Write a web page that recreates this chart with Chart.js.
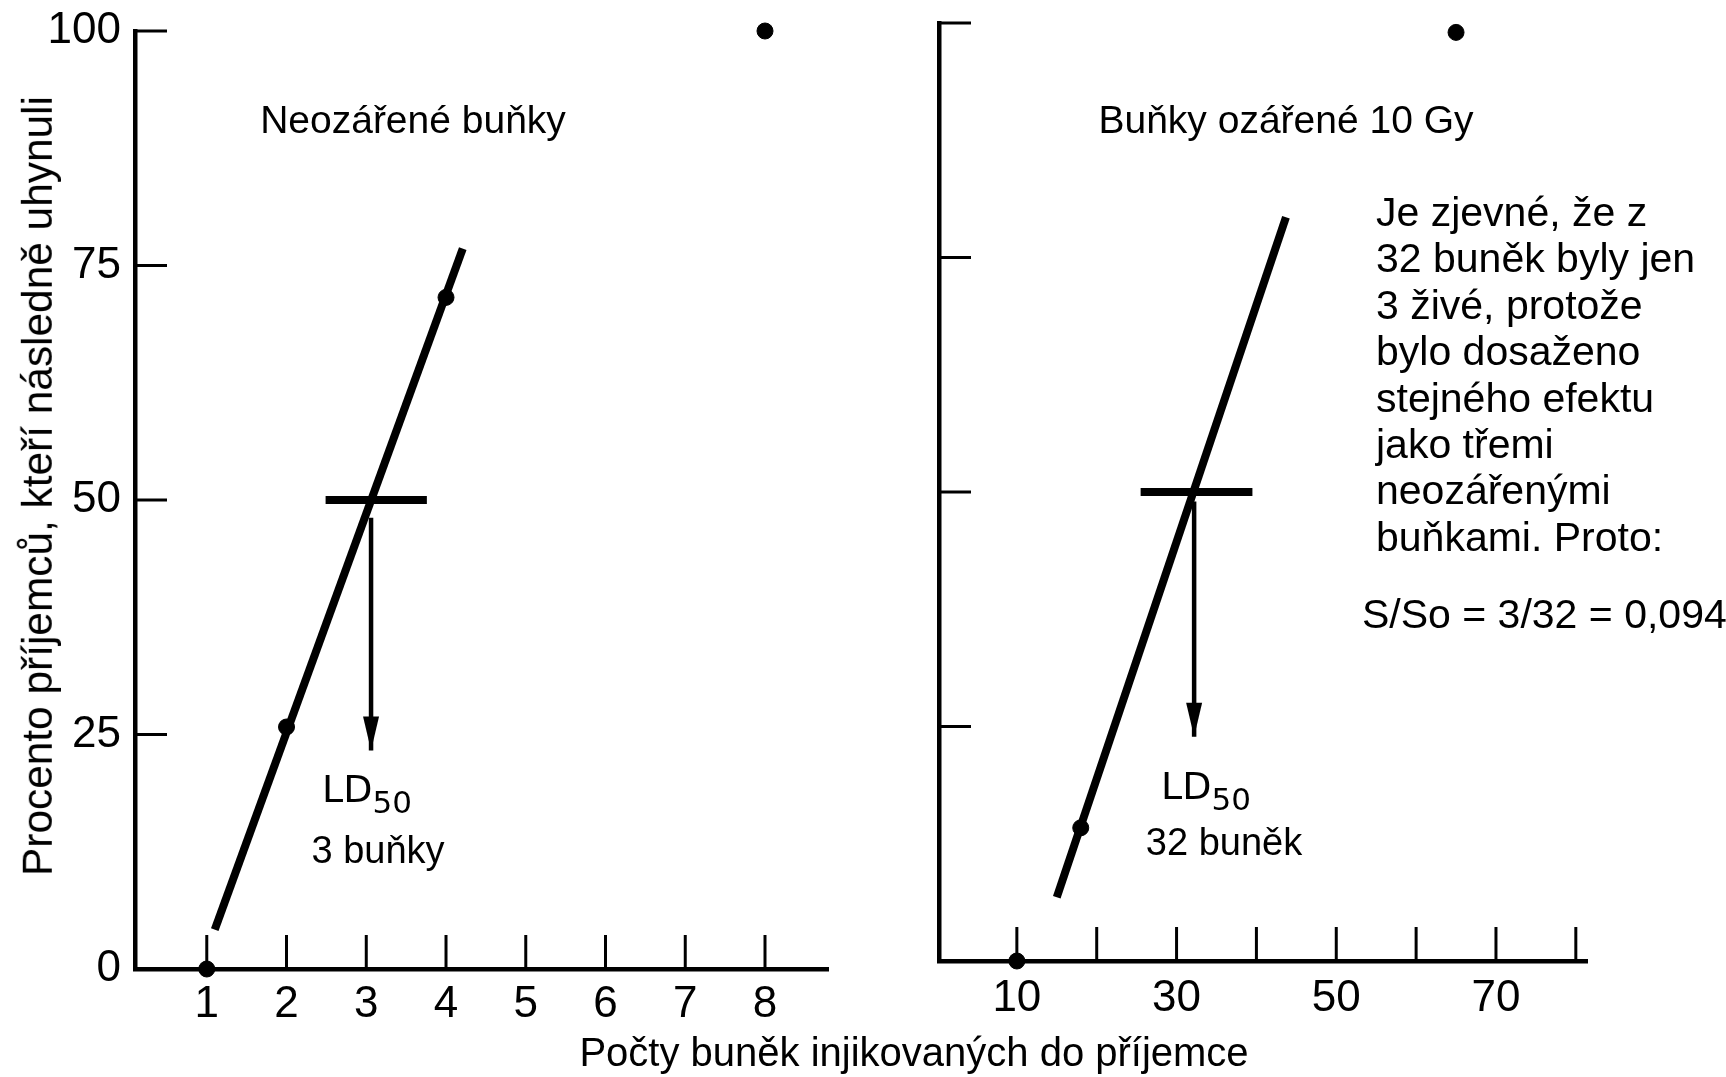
<!DOCTYPE html>
<html>
<head>
<meta charset="utf-8">
<script src="https://cdn.jsdelivr.net/npm/chart.js@4.4.1/dist/chart.umd.min.js"></script>
<style>
html, body { margin: 0; padding: 0; background: #fff; }
#page { position: relative; width: 1726px; height: 1077px; overflow: hidden;
        font-family: "Liberation Sans", Arial, sans-serif; color: #000; }
.box { position: absolute; top: 0; }
.txt { position: absolute; white-space: nowrap; line-height: 1; }
.c { transform: translate(-50%, -50%); }
.ld { font-family: "DejaVu Sans", sans-serif; font-size: 38px; }
.ld sub { font-size: 31px; vertical-align: -11px; line-height: 0; }
#note { position: absolute; left: 1376px; top: 189px; font-size: 41px; line-height: 46.4px; }
</style>
</head>
<body>
<div id="page">
  <div class="box" style="left:0"><canvas id="left" width="870" height="1077"></canvas></div>
  <div class="box" style="left:870px"><canvas id="right" width="856" height="1077"></canvas></div>

  <div class="txt c" style="left:38px;top:486px;font-size:42.4px;transform:translate(-50%,-50%) rotate(-90deg)">Procento příjemců, kteří následně uhynuli</div>
  <div class="txt c" style="left:914px;top:1052px;font-size:40px">Počty buněk injikovaných do příjemce</div>

  <div class="txt c" style="left:413px;top:119px;font-size:39px">Neozářené buňky</div>
  <div class="txt c" style="left:1286px;top:119px;font-size:39px">Buňky ozářené 10 Gy</div>

  <div class="txt ld" style="left:322px;top:770px">LD<sub>50</sub></div>
  <div class="txt c" style="left:378px;top:850px;font-size:38px">3 buňky</div>
  <div class="txt ld" style="left:1161px;top:767px">LD<sub>50</sub></div>
  <div class="txt c" style="left:1224px;top:842px;font-size:38px">32 buněk</div>

  <div id="note">Je zjevné, že z<br>32 buněk byly jen<br>3 živé, protože<br>bylo dosaženo<br>stejného efektu<br>jako třemi<br>neozářenými<br>buňkami. Proto:</div>
  <div class="txt" style="left:1362px;top:594px;font-size:41px">S/So = 3/32 = 0,094</div>
</div>

<script>
// ticks
var yTicks = [0, 25, 50, 75, 100];
var leftXTicks = [1, 2, 3, 4, 5, 6, 7, 8];
var rightXTicks = [10, 20, 30, 40, 50, 60, 70, 80];
var rightXLabels = [10, 30, 50, 70];

// unirradiated cells (left)
var leftCells = [1, 2, 4, 8];
var leftDead = [0, 25.8, 71.6, 100];
var leftFitX = [1.1, 4.21];
var leftFitY = [4.2, 76.8];
var leftBarX = [2.49, 3.76];
var leftLD50 = 3.06;
var leftArrowY = [48.1, 23.3];

// cells irradiated with 10 Gy (right)
var rightCells = [10, 18, 65];
var rightDead = [0, 14.2, 99];
var rightFitX = [15.0, 43.7];
var rightFitY = [6.8, 79.3];
var rightBarX = [25.5, 39.5];
var rightLD50 = 32.2;
var rightArrowY = [49, 23.9];

Chart.defaults.font.family = '"Liberation Sans", Arial, sans-serif';
Chart.defaults.color = '#000';

function pts(xs, ys) {
    return xs.map(function (x, i) { return { x: x, y: ys[i] }; });
}

// tick marks drawn inside the plot, like the original figure
var inwardTicks = {
    id: 'inwardTicks',
    afterDatasetsDraw: function (chart, args, o) {
        var ctx = chart.ctx, xs = chart.scales.x, ys = chart.scales.y;
        ctx.save();
        ctx.strokeStyle = '#000';
        ctx.lineWidth = 3;
        o.xMarks.forEach(function (v) {
            var px = xs.getPixelForValue(v);
            ctx.beginPath();
            ctx.moveTo(px, ys.bottom);
            ctx.lineTo(px, ys.bottom - o.xLen);
            ctx.stroke();
        });
        o.yMarks.forEach(function (v) {
            var py = ys.getPixelForValue(v);
            ctx.beginPath();
            ctx.moveTo(xs.left, py);
            ctx.lineTo(xs.left + o.yLen, py);
            ctx.stroke();
        });
        ctx.restore();
    }
};

// narrow arrow head on the last point of a dataset
var arrowHeads = {
    id: 'arrowHeads',
    afterDatasetsDraw: function (chart) {
        var ctx = chart.ctx;
        chart.data.datasets.forEach(function (ds, i) {
            if (!ds.arrowHead) return;
            var els = chart.getDatasetMeta(i).data;
            var tip = els[els.length - 1];
            ctx.save();
            ctx.fillStyle = '#000';
            ctx.beginPath();
            ctx.moveTo(tip.x, tip.y);
            ctx.lineTo(tip.x - 8, tip.y - 34);
            ctx.lineTo(tip.x + 8, tip.y - 34);
            ctx.closePath();
            ctx.fill();
            ctx.restore();
        });
    }
};

function lineSet(data, width, extra) {
    var ds = {
        data: data, showLine: true, borderColor: '#000', borderWidth: width,
        pointRadius: 0, pointHoverRadius: 0, clip: false
    };
    for (var k in extra) ds[k] = extra[k];
    return ds;
}

// no extra room for overflowing tick labels, the layout padding decides
function noOverflow(s) {
    s.paddingTop = 0; s.paddingBottom = 0;
    s.paddingLeft = 0; s.paddingRight = 0;
}

function buildChart(id, p) {
    return new Chart(document.getElementById(id), {
        type: 'scatter',
        data: {
            datasets: [
                lineSet(pts(p.fitX, p.fitY), 8),
                lineSet(pts(p.barX, [50, 50]), 8),
                lineSet(pts([p.ld, p.ld], p.arrowY), 4.5, { arrowHead: true }),
                {
                    data: pts(p.cells, p.dead), backgroundColor: '#000', borderColor: '#000',
                    pointRadius: 8, pointHoverRadius: 8, showLine: false, clip: false
                }
            ]
        },
        options: {
            responsive: false,
            animation: false,
            events: [],
            layout: { padding: p.padding },
            plugins: {
                legend: { display: false },
                tooltip: { enabled: false },
                inwardTicks: { xMarks: p.xMarks, yMarks: [25, 50, 75, 100], xLen: 34, yLen: 32 }
            },
            scales: {
                x: {
                    type: 'linear', min: p.xMin, max: p.xMax,
                    grid: { display: false, drawTicks: false },
                    border: { display: true, color: '#000', width: 4.5 },
                    ticks: { font: { size: 44 }, padding: p.xPad, maxRotation: 0 },
                    afterBuildTicks: function (s) { s.ticks = p.xLabels.map(function (v) { return { value: v }; }); },
                    afterFit: function (s) { s.height = p.xHeight; noOverflow(s); }
                },
                y: {
                    type: 'linear', min: 0, max: 100,
                    grid: { display: false, drawTicks: false },
                    border: { display: true, color: '#000', width: 4.5 },
                    ticks: { display: p.yLabels, font: { size: 44 }, padding: 14 },
                    afterBuildTicks: function (s) { s.ticks = yTicks.map(function (v) { return { value: v }; }); },
                    afterFit: function (s) { s.width = p.yWidth; noOverflow(s); }
                }
            }
        },
        plugins: [inwardTicks, arrowHeads]
    });
}

buildChart('left', {
    cells: leftCells, dead: leftDead, fitX: leftFitX, fitY: leftFitY,
    barX: leftBarX, ld: leftLD50, arrowY: leftArrowY,
    xMin: 0.1, xMax: 8.79, xLabels: leftXTicks, xMarks: leftXTicks, yLabels: true,
    padding: { top: 31, right: 42, bottom: 0, left: 0 }, yWidth: 135, xHeight: 108, xPad: 9
});

buildChart('right', {
    cells: rightCells, dead: rightDead, fitX: rightFitX, fitY: rightFitY,
    barX: rightBarX, ld: rightLD50, arrowY: rightArrowY,
    xMin: 0.25, xMax: 81.4, xLabels: rightXLabels, xMarks: rightXTicks, yLabels: false,
    padding: { top: 23, right: 139, bottom: 0, left: 0 }, yWidth: 69, xHeight: 116, xPad: 11
});
</script>
</body>
</html>
